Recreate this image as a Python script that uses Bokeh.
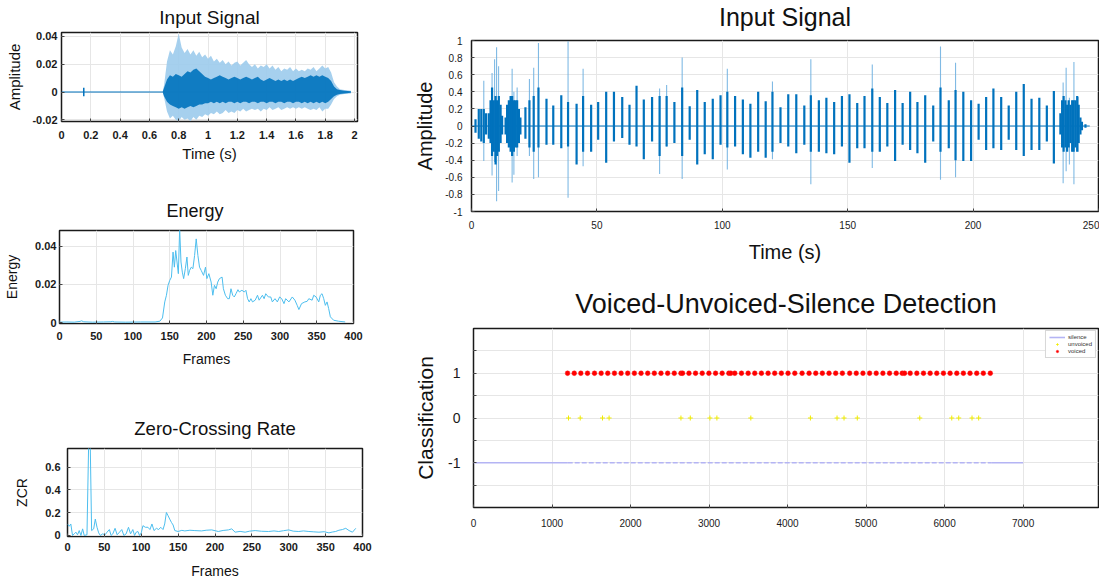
from bokeh.plotting import figure
from bokeh.models import (Range1d, FixedTicker, PrintfTickFormatter, Legend, LegendItem, Title)
from bokeh.layouts import row, column
from bokeh.embed import file_html
from bokeh.resources import INLINE

FONT = "Liberation Sans"
DARK = "#0072BD"
LIGHT = "#9ccbec"
TRACE = "#4DBEEE"

# ---------------------------------------------------------------- data ----
# Short utterance (0-2 s): envelope of the waveform, amplitudes in 1e-3
clip_t = [0.69, 0.70, 0.72, 0.74, 0.76, 0.78, 0.80, 0.82, 0.84, 0.86,
          0.88, 0.90, 0.92, 0.94, 0.96, 0.98, 1.00, 1.02, 1.04, 1.06,
          1.08, 1.10, 1.12, 1.14, 1.16, 1.18, 1.20, 1.22, 1.24, 1.26,
          1.28, 1.30, 1.32, 1.34, 1.36, 1.38, 1.40, 1.42, 1.44, 1.46,
          1.48, 1.50, 1.52, 1.54, 1.56, 1.58, 1.60, 1.62, 1.64, 1.66,
          1.68, 1.70, 1.72, 1.74, 1.76, 1.78, 1.80, 1.82, 1.84, 1.86,
          1.88, 1.90, 1.93, 1.975]
clip_peak_hi = [0, 5, 22, 30, 27, 33, 42, 32, 28, 31,
                27, 30, 26, 29, 25, 27, 24, 26, 22, 24,
                21, 23, 20, 22, 19, 21, 22, 19, 21, 23,
                20, 18, 20, 17, 19, 18, 20, 17, 19, 16,
                18, 15, 17, 16, 18, 15, 17, 15, 16, 15,
                17, 16, 18, 15, 17, 19, 17, 18, 14, 7,
                4, 2, 1.5, 1]
clip_peak_lo = [0, -4, -14, -19, -17, -20, -21, -18, -20, -19,
                -21, -18, -20, -17, -18, -16, -17, -15, -16, -14,
                -16, -15, -13, -15, -14, -15, -13, -14, -12, -14,
                -13, -12, -13, -12, -14, -12, -13, -11, -13, -12,
                -11, -13, -12, -11, -12, -11, -12, -11, -12, -11,
                -12, -13, -12, -13, -11, -14, -12, -12, -9, -5,
                -3, -2, -1.5, -1]
clip_core_hi = [0, 3, 9, 12, 11, 13, 12, 11, 13, 15,
                14, 16, 17, 15, 13, 11, 10, 9, 10, 11,
                12, 11, 10, 9, 10, 11, 10, 9, 10, 11,
                10, 9, 10, 11, 9, 8, 9, 10, 9, 8,
                9, 8, 9, 8, 9, 8, 9, 10, 11, 10,
                11, 12, 11, 12, 11, 12, 11, 10, 8, 4,
                2, 1.5, 1, 0.5]
clip_core_lo = [0, -3, -7, -9, -10, -11, -12, -11, -12, -11,
                -10, -11, -10, -9, -9, -8, -8, -7, -8, -7,
                -8, -7, -8, -7, -7, -8, -7, -8, -7, -7,
                -8, -7, -7, -8, -7, -7, -8, -7, -7, -8,
                -7, -7, -8, -7, -7, -8, -7, -7, -8, -7,
                -8, -7, -8, -7, -8, -7, -8, -7, -5, -3,
                -2, -1.5, -1, -0.5]
clip_span = [0.0, 1.975]
clip_click_t = [0.152]
clip_click_amp = [3]

# Short-time energy per frame
energy_frame = [0, 10, 20, 28, 30, 33, 45, 60, 70, 72, 75, 90, 110, 130, 136.5,
                140.1, 143.2, 145.5, 147.7, 150.0, 152.3, 154.5, 156.3, 158.1, 159.9,
                161.7, 163.5, 165.3, 167.1, 168.9, 171.2, 173.4, 175.2, 177.0, 179.3,
                181.5, 183.8, 186.0, 188.3, 190.5, 192.8, 196.0, 198.6, 200.5, 203.2,
                206.3, 208.6, 210.8, 213.1, 215.3, 217.6, 221.2, 223.0, 225.7, 228.8,
                231.1, 233.3, 235.6, 237.8, 240.1, 242.8, 244.6, 248.2, 251.4, 253.6,
                255.9, 258.1, 260.4, 262.6, 266.2, 269.4, 271.6, 276.1, 278.4, 280.6,
                284.2, 287.4, 289.6, 293.2, 296.4, 299.5, 302.3, 305.4, 307.7, 312.2,
                316.7, 320.3, 323.4, 325.7, 329.3, 333.8, 336.9, 339.2, 343.7, 345.9,
                349.1, 352.7, 354.9, 357.2, 359.5, 361.7, 364.0, 366.2, 368.5, 373.0,
                379.7, 388.7]
energy_value = [0.0002, 0.0003, 0.0002, 0.0006, 0.0009, 0.0004, 0.0002, 0.0003, 0.0004, 0.0006,
                0.0003, 0.0002, 0.0003, 0.0003, 0.0007,
                0.0024, 0.0108, 0.0143, 0.0195, 0.0221, 0.0238, 0.0369, 0.0290, 0.0377, 0.0317,
                0.0256, 0.0490, 0.0317, 0.0264, 0.0230, 0.0282, 0.0343, 0.0247, 0.0273, 0.0290,
                0.0282, 0.0351, 0.0438, 0.0351, 0.0290, 0.0273, 0.0247, 0.0290, 0.0230, 0.0256,
                0.0212, 0.0143, 0.0195, 0.0177, 0.0212, 0.0230, 0.0238, 0.0177, 0.0143, 0.0125,
                0.0125, 0.0177, 0.0143, 0.0134, 0.0151, 0.0172, 0.0160, 0.0169, 0.0160, 0.0169,
                0.0125, 0.0108, 0.0125, 0.0108, 0.0117, 0.0143, 0.0117, 0.0143, 0.0125, 0.0151,
                0.0134, 0.0134, 0.0108, 0.0125, 0.0108, 0.0134, 0.0125, 0.0099, 0.0125, 0.0108,
                0.0134, 0.0117, 0.0090, 0.0068, 0.0099, 0.0108, 0.0111, 0.0125, 0.0117, 0.0143,
                0.0134, 0.0108, 0.0143, 0.0151, 0.0125, 0.0090, 0.0108, 0.0073, 0.0030, 0.0012,
                0.0007, 0.0003]

# Zero-crossing rate per frame
zcr_frame = [0, 2.3, 4.5, 6.8, 9.1, 11.4, 13.6, 15.9, 18.2, 20.5,
             22.7, 26.4, 28.6, 30.9, 32.7, 35.5, 37.7, 40.0, 42.3, 44.5,
             47.7, 50.9, 53.6, 56.8, 59.1, 61.4, 64.5, 67.3, 70.5, 73.6,
             76.4, 79.5, 82.7, 85.5, 88.6, 90.9, 93.2, 95.5, 97.7, 100.0,
             102.3, 105.5, 109.1, 111.8, 114.5, 117.3, 120.5, 123.6, 126.4, 129.5,
             131.8, 134.1, 136.4, 138.6, 140.9, 143.2, 145.5, 150.0, 155.0, 159.1,
             166.0, 172.7, 181.8, 188.0, 195.5, 204.5, 211.0, 218.2, 222.7, 227.3,
             234.0, 240.9, 247.0, 254.5, 263.0, 272.7, 280.0, 286.4, 293.0, 300.0,
             306.0, 313.6, 320.0, 327.3, 334.0, 340.9, 348.0, 354.5, 359.0, 363.6,
             368.0, 372.7, 377.3, 381.8, 386.4, 390.9]
zcr_value = [0.101, 0.081, 0.101, 0.0, 0.014, 0.029, 0.006, 0.043, 0.0, 0.058,
             0.0, 0.006, 0.78, 0.78, 0.043, 0.058, 0.144, 0.072, 0.023, 0.0,
             0.014, 0.006, 0.029, 0.052, 0.0, 0.014, 0.063, 0.006, 0.029, 0.052,
             0.0, 0.014, 0.072, 0.014, 0.052, 0.0, 0.029, 0.035, 0.0, 0.023,
             0.086, 0.072, 0.072, 0.052, 0.101, 0.043, 0.063, 0.052, 0.072, 0.052,
             0.101, 0.202, 0.173, 0.144, 0.115, 0.092, 0.043, 0.035, 0.045, 0.040,
             0.046, 0.043, 0.040, 0.046, 0.049, 0.035, 0.044, 0.049, 0.058, 0.029,
             0.036, 0.029, 0.038, 0.043, 0.037, 0.035, 0.040, 0.035, 0.042, 0.049,
             0.038, 0.035, 0.040, 0.035, 0.032, 0.029, 0.033, 0.023, 0.030, 0.035,
             0.046, 0.052, 0.063, 0.043, 0.029, 0.063]

# Long recording (0-250 s): per-pulse body extent
pulse_t = [1.6, 2.9, 3.9, 4.9, 5.8, 6.9, 7.6, 8.2, 8.9, 9.6,
           10.2, 10.9, 11.6, 12.2, 13.6, 14.2, 14.9, 15.6, 16.2, 16.9,
           17.5, 18.2, 18.9, 19.5, 21.5, 23.1, 24.8, 26.7, 29.9, 32.6,
           35.8, 38.5, 41.9, 44.5, 47.7, 50.5, 53.7, 56.8, 60.1, 63.0,
           65.8, 68.7, 72.0, 75.0, 77.8, 80.9, 84.0, 87.0, 90.0, 93.0,
           96.2, 99.3, 102.0, 105.1, 108.2, 111.2, 114.3, 117.3, 120.0, 123.2,
           126.3, 129.5, 132.7, 135.3, 138.5, 141.5, 144.6, 147.7, 150.7, 153.8,
           156.7, 159.8, 162.8, 165.8, 168.9, 171.9, 174.9, 177.8, 180.9, 184.1,
           187.0, 190.3, 193.0, 196.1, 199.2, 202.2, 205.2, 208.1, 211.2, 214.2,
           217.2, 220.2, 223.3, 226.4, 229.4, 232.2, 234.8, 235.5, 236.1, 236.8,
           237.5, 238.1, 238.8, 239.5, 240.1, 240.8, 241.5, 242.1, 242.8, 243.4,
           244.8]
pulse_hi = [0.08, 0.20, 0.20, 0.20, 0.15, 0.15, 0.30, 0.45, 0.30, 0.35,
            0.30, 0.35, 0.25, 0.12, 0.10, 0.25, 0.30, 0.35, 0.35, 0.30,
            0.30, 0.30, 0.20, 0.10, 0.22, 0.30, 0.35, 0.45, 0.32, 0.24,
            0.36, 0.28, 0.26, 0.35, 0.25, 0.28, 0.40, 0.40, 0.34, 0.25,
            0.47, 0.31, 0.34, 0.35, 0.35, 0.28, 0.45, 0.23, 0.42, 0.28,
            0.32, 0.36, 0.40, 0.35, 0.31, 0.26, 0.40, 0.29, 0.40, 0.22,
            0.37, 0.37, 0.24, 0.36, 0.30, 0.33, 0.28, 0.35, 0.37, 0.27,
            0.35, 0.44, 0.34, 0.27, 0.42, 0.27, 0.40, 0.28, 0.36, 0.24,
            0.45, 0.30, 0.42, 0.40, 0.30, 0.26, 0.34, 0.44, 0.34, 0.24,
            0.40, 0.49, 0.32, 0.33, 0.24, 0.41, 0.15, 0.30, 0.35, 0.30,
            0.25, 0.30, 0.25, 0.30, 0.30, 0.30, 0.35, 0.25, 0.10, 0.05,
            0.02]
pulse_lo = [-0.08, -0.15, -0.18, -0.20, -0.10, -0.15, -0.20, -0.35, -0.30, -0.45,
            -0.35, -0.30, -0.20, -0.10, -0.10, -0.20, -0.25, -0.30, -0.35, -0.30,
            -0.25, -0.25, -0.20, -0.10, -0.15, -0.25, -0.30, -0.25, -0.22, -0.22,
            -0.26, -0.24, -0.45, -0.30, -0.30, -0.16, -0.43, -0.18, -0.14, -0.22,
            -0.24, -0.39, -0.18, -0.35, -0.24, -0.20, -0.35, -0.16, -0.45, -0.33,
            -0.39, -0.22, -0.25, -0.24, -0.33, -0.37, -0.30, -0.37, -0.30, -0.20,
            -0.24, -0.32, -0.22, -0.30, -0.30, -0.32, -0.33, -0.24, -0.43, -0.26,
            -0.26, -0.30, -0.30, -0.24, -0.41, -0.22, -0.28, -0.32, -0.43, -0.18,
            -0.30, -0.26, -0.40, -0.41, -0.41, -0.16, -0.28, -0.26, -0.28, -0.16,
            -0.28, -0.35, -0.28, -0.28, -0.18, -0.44, -0.10, -0.25, -0.30, -0.25,
            -0.30, -0.25, -0.20, -0.30, -0.30, -0.25, -0.30, -0.20, -0.10, -0.05,
            -0.02]
# isolated sharp peaks that reach past the pulse bodies
spike_t = [4.9, 8.2, 9.2, 10.0, 10.8, 16.2, 16.9, 18.2, 23.1, 24.8,
           26.7, 38.5, 44.5, 75.0, 77.8, 84.0, 102.0, 120.0, 135.3, 159.8,
           187.0, 193.0, 235.9, 237.1, 238.4, 240.2, 241.9]
spike_hi = [0.53, 0.62, 0.78, 0.92, 0.70, 0.67, 0.40, 0.45, 0.55, 0.68,
            0.97, 0.99, 0.67, 0.44, 0.48, 0.80, 0.67, 0.52, 0.78, 0.72,
            0.93, 0.74, 0.51, 0.68, 0.33, 0.75, 0.34]
spike_lo = [-0.41, -0.58, -0.42, -0.88, -0.76, -0.66, -0.57, -0.35, -0.35, -0.62,
            -0.60, -0.84, -0.47, -0.56, -0.24, -0.62, -0.51, -0.39, -0.68, -0.49,
            -0.63, -0.60, -0.67, -0.53, -0.45, -0.68, -0.30]
long_span = [0.0, 246.5]

# Frame classification: -1 silence, 0 unvoiced, 1 voiced
voiced_x = [1198, 1283, 1367, 1452, 1541, 1626, 1710, 1795, 1880, 1964,
            2049, 2134, 2219, 2303, 2388, 2473, 2557, 2642, 2663, 2744,
            2828, 2913, 2998, 3083, 3167, 3252, 3277, 3328, 3413, 3498,
            3582, 3667, 3752, 3836, 3921, 4006, 4092, 4185, 4274, 4359,
            4443, 4528, 4613, 4698, 4791, 4875, 4960, 5045, 5129, 5214,
            5299, 5384, 5460, 5490, 5562, 5646, 5731, 5816, 5900, 5985,
            6070, 6155, 6239, 6324, 6409, 6493, 6582]
unvoiced_x = [1210, 1359, 1643, 1727, 2642, 2761, 3011, 3100, 3532, 4291,
              4630, 4719, 4888, 5684, 6091, 6180, 6349, 6434]
silence_runs = [(0, 1200), (6600, 7000)]
silence_broken = [(1200, 6600)]
VOICED, UNVOICED, SILENCE = 1, 0, -1


# ------------------------------------------------------------- helpers ----
def styled(width, height, xr, yr, borders, xticks, yticks):
    left, right, top, bottom = borders
    p = figure(width=width, height=height, x_range=Range1d(*xr), y_range=Range1d(*yr),
               output_backend="svg", toolbar_location=None, title=None,
               min_border_left=left, min_border_right=right,
               min_border_top=top, min_border_bottom=bottom)
    p.background_fill_color = "white"
    p.border_fill_color = "white"
    p.outline_line_color = "#1a1a1a"
    p.outline_line_width = 1.5
    p.xaxis.ticker = FixedTicker(ticks=xticks)
    p.yaxis.ticker = FixedTicker(ticks=yticks)
    p.grid.grid_line_color = "#e6e6e6"
    p.grid.grid_line_width = 1
    for ax in p.axis:
        ax.axis_line_color = None
        ax.major_tick_in = 3
        ax.major_tick_out = 0
        ax.major_tick_line_color = "#444444"
        ax.minor_tick_line_color = None
        ax.formatter = PrintfTickFormatter(format="%g")
        ax.major_label_text_font = FONT
        ax.major_label_text_color = "#1a1a1a"
        ax.axis_label_text_font = FONT
        ax.axis_label_text_font_style = "normal"
        ax.axis_label_text_color = "#111111"
    return p


def heading(p, text, size, gap, align="center", offset=0):
    # an empty strip of `gap` px keeps the heading clear of the frame
    p.add_layout(Title(text=" ", text_font_size="1px", standoff=max(gap - 3, 0)), "above")
    p.add_layout(Title(text=text, text_font=FONT, text_font_size=size,
                       text_font_style="normal", text_color="#111111",
                       align=align, offset=offset, standoff=0), "above")


def axis_text(p, tick_size, tick_x_standoff, tick_y_standoff,
              label_size, x_label, x_label_standoff, y_label, y_label_standoff):
    p.xaxis.major_label_text_font_size = tick_size
    p.yaxis.major_label_text_font_size = tick_size
    p.xaxis.major_label_standoff = tick_x_standoff
    p.yaxis.major_label_standoff = tick_y_standoff
    p.xaxis.axis_label = x_label
    p.yaxis.axis_label = y_label
    p.xaxis.axis_label_text_font_size = label_size
    p.yaxis.axis_label_text_font_size = label_size
    p.xaxis.axis_label_standoff = x_label_standoff
    p.yaxis.axis_label_standoff = y_label_standoff


def bold_ticks(p):
    for ax in p.axis:
        ax.major_label_text_font_style = "bold"


# ------------------------------------------------ short input signal ----
p1 = styled(410, 195, (0, 2.02), (-0.0212, 0.0428), (61, 53, 32, 74),
            [0, 0.2, 0.4, 0.6, 0.8, 1.0, 1.2, 1.4, 1.6, 1.8, 2.0],
            [-0.02, 0, 0.02, 0.04])
heading(p1, "Input Signal", "19px", 4.5)
axis_text(p1, "11px", 9, 4, "15px", "Time (s)", 3, "Amplitude", 6)
bold_ticks(p1)
p1.line(clip_span, [0, 0], line_color=DARK, line_width=1.2)
p1.segment(clip_click_t, [-a * 1e-3 for a in clip_click_amp], clip_click_t,
           [a * 1e-3 for a in clip_click_amp], line_color=DARK, line_width=1.5)
p1.varea(x=clip_t, y1=[v * 1e-3 for v in clip_peak_lo], y2=[v * 1e-3 for v in clip_peak_hi],
         fill_color=LIGHT, fill_alpha=0.9)
p1.varea(x=clip_t, y1=[v * 1e-3 for v in clip_core_lo], y2=[v * 1e-3 for v in clip_core_hi],
         fill_color=DARK, fill_alpha=0.9)

# -------------------------------------------------------------- energy ----
p2 = styled(410, 215, (0, 400), (-0.0005, 0.0482), (59, 57, 35, 87),
            [0, 50, 100, 150, 200, 250, 300, 350, 400], [0, 0.02, 0.04])
heading(p2, "Energy", "18px", 9.5, align="left", offset=107)
axis_text(p2, "11px", 8, 3, "14px", "Frames", 8, "Energy", 12)
bold_ticks(p2)
p2.line(energy_frame, energy_value, line_color=TRACE, line_width=1)

# ----------------------------------------------------------------- zcr ----
p3 = styled(410, 171, (0, 400), (-0.009, 0.764), (67, 48, 38, 43),
            [0, 50, 100, 150, 200, 250, 300, 350, 400], [0, 0.2, 0.4, 0.6])
heading(p3, "Zero-Crossing Rate", "18.5px", 10)
axis_text(p3, "11px", 6, 7, "14px", "Frames", 9, "ZCR", 12)
bold_ticks(p3)
p3.line(zcr_frame, zcr_value, line_color=TRACE, line_width=1)

# ------------------------------------------------- long input signal ----
p4 = styled(689, 285, (0, 250), (-1, 1), (61, 1, 40, 74),
            [0, 50, 100, 150, 200, 250],
            [-1, -0.8, -0.6, -0.4, -0.2, 0, 0.2, 0.4, 0.6, 0.8, 1])
heading(p4, "Input Signal", "25px", 10)
axis_text(p4, "10px", 9, 9, "20px", "Time (s)", 9, "Amplitude", 6)
p4.line(long_span, [0, 0], line_color=DARK, line_width=1.1)
p4.segment(spike_t, spike_lo, spike_t, spike_hi, line_color="#6aaedf", line_width=1.1, line_alpha=0.85)
p4.segment(pulse_t, pulse_lo, pulse_t, pulse_hi, line_color=DARK, line_width=2.2)

# ------------------------------------------------------ classification ----
p5 = styled(689, 296, (0, 7960), (-2, 2), (63, 1, 43, 74),
            [0, 1000, 2000, 3000, 4000, 5000, 6000, 7000],
            [-1.5, -1, -0.5, 0, 0.5, 1, 1.5])
heading(p5, "Voiced-Unvoiced-Silence Detection", "27px", 9.6)
axis_text(p5, "10px", 11, 13, "21px", None, 0, "Classification", 8)
p5.yaxis.major_label_text_font_size = "14px"
p5.yaxis.major_label_overrides = {-1.5: "", -1: "-1", -0.5: "", 0: "0", 0.5: "", 1: "1", 1.5: ""}
p5.xaxis.axis_label = None

silence_color = "#b4b4f4"
r_sil = None
for a, b in silence_runs:
    r = p5.line([a, b], [SILENCE, SILENCE], line_color=silence_color, line_width=1.6)
    r_sil = r_sil or r
for a, b in silence_broken:
    p5.line([a, b], [SILENCE, SILENCE], line_color=silence_color, line_width=1.6, line_dash="5 2")
r_unv = p5.scatter(unvoiced_x, [UNVOICED] * len(unvoiced_x), marker="cross", size=5,
                   line_color="#f0ec00", line_width=1)
r_voi = p5.scatter(voiced_x, [VOICED] * len(voiced_x), marker="circle", size=4.8,
                   fill_color="#ff0000", line_color="#ff2020", line_width=0.5)

legend = Legend(items=[LegendItem(label="silence", renderers=[r_sil]),
                       LegendItem(label="unvoiced", renderers=[r_unv]),
                       LegendItem(label="voiced", renderers=[r_voi])],
                location="top_right", margin=5, padding=3, spacing=1,
                glyph_height=6, glyph_width=16, label_height=6, label_standoff=3,
                label_text_font=FONT, label_text_font_size="6px",
                label_text_color="#333333", border_line_color="#b0b0b0",
                border_line_width=1, background_fill_color="white")
legend.margin = 2
p5.add_layout(legend)

# each figure sits in its own row so that frames keep their own margins
layout = row(column(row(p1), row(p2), row(p3)), column(row(p4), row(p5)))

with open("out.html", "w") as fh:
    fh.write(file_html(layout, INLINE))
